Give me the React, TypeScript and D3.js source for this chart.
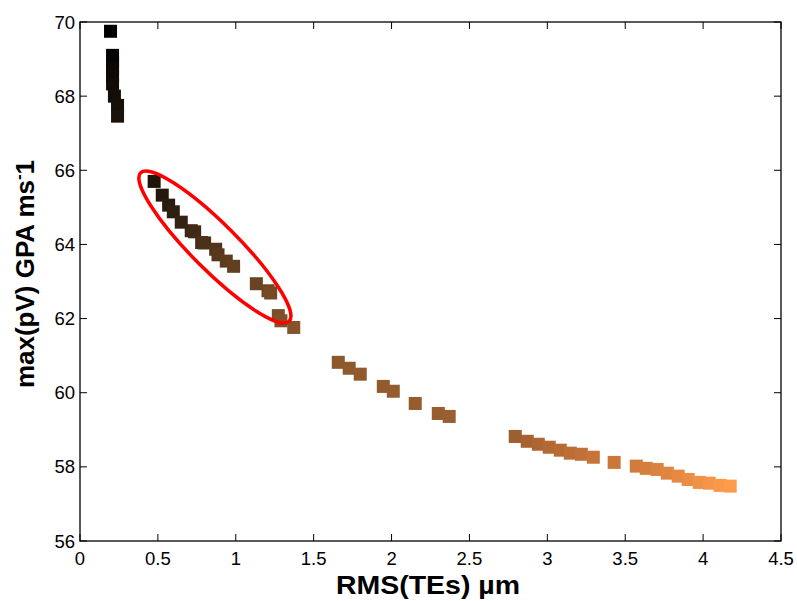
import React from "react";
import * as d3 from "d3";

const rmsTEs: number[] = [
  0.196, 0.209, 0.209, 0.209, 0.209, 0.209, 0.221, 0.241, 0.241,
  0.476, 0.528, 0.569, 0.599, 0.65, 0.714, 0.736, 0.781, 0.8, 0.871, 0.886, 0.939, 0.986,
  1.132, 1.207, 1.224, 1.273, 1.29, 1.372,
  1.658, 1.728, 1.799, 1.947, 2.011, 2.152, 2.3, 2.37,
  2.794, 2.871, 2.942, 3.012, 3.083, 3.147, 3.218, 3.295, 3.429, 3.571, 3.635, 3.705,
  3.77, 3.84, 3.904, 3.975, 4.039, 4.109, 4.174,
];
const maxPV: number[] = [
  69.75, 69.1, 68.92, 68.73, 68.54, 68.33, 68.0, 67.75, 67.46,
  65.7, 65.33, 65.06, 64.88, 64.6, 64.37, 64.34, 64.05, 64.04, 63.87, 63.72, 63.55, 63.41,
  62.94, 62.75, 62.69, 62.08, 61.94, 61.76,
  60.82, 60.66, 60.5, 60.17, 60.04, 59.71, 59.44, 59.36,
  58.82, 58.69, 58.61, 58.53, 58.45, 58.37, 58.34, 58.26, 58.12, 58.02, 57.96, 57.93,
  57.83, 57.75, 57.66, 57.58, 57.56, 57.5, 57.48,
];
const xTicks: number[] = [0, 0.5, 1, 1.5, 2, 2.5, 3, 3.5, 4, 4.5];
const yTicks: number[] = [56, 58, 60, 62, 64, 66, 68, 70];
const highlightCenter: [number, number] = [0.866, 63.93];

const W = 797;
const H = 601;
const L = 80, R = 781, T = 22, B = 541;

export default function App() {
  const x = d3.scaleLinear().domain([0, 4.5]).range([L, R]);
  const y = d3.scaleLinear().domain([56, 70]).range([B, T]);
  const n = rmsTEs.length;
  const color = d3
    .scaleLinear<string>()
    .domain([0, 9, 28, 36, 37, 45, n - 1])
    .range(["#000000", "#1e140c", "#8c582d", "#9c5f30", "#a8622f", "#d07a3c", "#ff9c4c"])
    .interpolate(d3.interpolateRgb);
  const ms = 13;
  const tick = 7;
  const font = "'Liberation Sans', Arial, Helvetica, sans-serif";
  const cx = x(highlightCenter[0]);
  const cy = y(highlightCenter[1]);
  return (
    <svg width={W} height={H} style={{ position: "absolute", left: 0, top: 0, background: "#fff" }}>
      <rect x={0} y={0} width={W} height={H} fill="#fff" />
      {rmsTEs.map((v, i) => (
        <rect
          key={i}
          x={x(v) - ms / 2}
          y={y(maxPV[i]) - ms / 2}
          width={ms}
          height={ms}
          fill={color(i)}
        />
      ))}
      <ellipse
        cx={cx}
        cy={cy}
        rx={105}
        ry={23}
        transform={`rotate(45 ${cx} ${cy})`}
        fill="none"
        stroke="#ff0000"
        strokeWidth={3.5}
      />
      <rect x={L} y={T} width={R - L} height={B - T} fill="none" stroke="#000" strokeWidth={1.3} />
      {xTicks.map((t) => (
        <g key={"x" + t}>
          <line x1={x(t)} x2={x(t)} y1={B} y2={B - tick} stroke="#000" strokeWidth={1} />
          <line x1={x(t)} x2={x(t)} y1={T} y2={T + tick} stroke="#000" strokeWidth={1} />
          <text x={x(t)} y={565} textAnchor="middle" fontFamily={font} fontSize={18.5} fill="#000">
            {String(t)}
          </text>
        </g>
      ))}
      {yTicks.map((t) => (
        <g key={"y" + t}>
          <line x1={L} x2={L + tick} y1={y(t)} y2={y(t)} stroke="#000" strokeWidth={1} />
          <line x1={R} x2={R - tick} y1={y(t)} y2={y(t)} stroke="#000" strokeWidth={1} />
          <text x={75} y={y(t) + 6.5} textAnchor="end" fontFamily={font} fontSize={18.5} fill="#000">
            {String(t)}
          </text>
        </g>
      ))}
      <text
        x={336}
        y={594}
        textLength={184}
        lengthAdjust="spacingAndGlyphs"
        fontFamily={font}
        fontSize={25}
        fontWeight="bold"
        fill="#000"
      >
        RMS(TEs) µm
      </text>
      <text
        transform={`translate(34, 274) rotate(-90)`}
        textAnchor="middle"
        fontFamily={font}
        fontSize={26}
        fontWeight="bold"
        fill="#000"
      >
        max(pV) GPA ms<tspan dy={-10} fontSize={17}>-</tspan>
        <tspan dy={10}>1</tspan>
      </text>
    </svg>
  );
}
